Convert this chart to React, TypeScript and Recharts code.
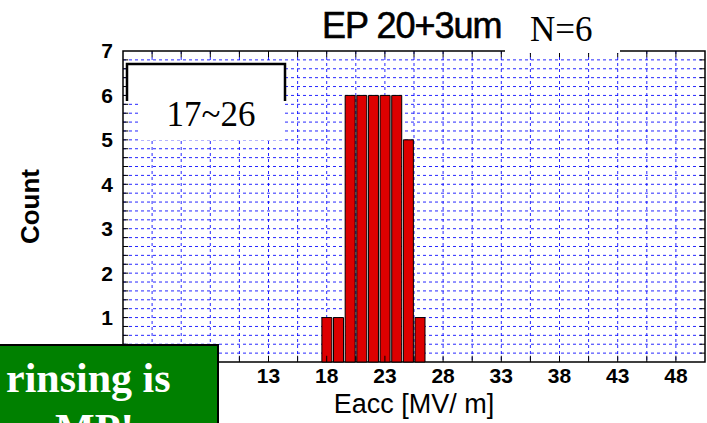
import React from "react";
import { ComposedChart, Bar, XAxis, YAxis, CartesianGrid, ReferenceLine, ReferenceArea } from "recharts";

const bins = [18, 19, 20, 21, 22, 23, 24, 25, 26];
const counts = [1, 1, 6, 6, 6, 6, 6, 5, 1];
// labels under the green box (0, 3, 8) are not visible in the picture
const xTicks = [13, 18, 23, 28, 33, 38, 43, 48];
const yTicks = [1, 2, 3, 4, 5, 6, 7];

const data = bins.map((eacc, i) => ({ eacc, count: counts[i] }));

// grid lines and inner tick marks (every 2.5 on x, every 0.2 on y)
const xMinor = Array.from({ length: 19 }, (_, i) => 3 + i * 2.5);
const yMinor = Array.from({ length: 34 }, (_, i) => Math.round((i + 1) * 2) / 10);

const sans = "Arial, 'Liberation Sans', sans-serif";
const serif = "'Times New Roman', 'Liberation Serif', serif";

const tickStyle = { fontSize: 21, fontWeight: 700, fill: "#000", fontFamily: sans };

export default function App() {
  return (
    <div style={{ position: "fixed", left: 0, top: 0, width: 707, height: 423, background: "#fff", overflow: "hidden" }}>
      <ComposedChart width={707} height={423} data={data} margin={{ top: 51, right: 2, left: 83, bottom: 31 }}>
        <CartesianGrid
          verticalValues={xMinor}
          horizontalValues={yMinor}
          stroke="#0000ff"
          strokeOpacity={0.85}
          strokeDasharray="3 3"
        />
        <XAxis
          dataKey="eacc"
          type="number"
          domain={[0.5, 50.5]}
          ticks={xTicks}
          interval={0}
          allowDataOverflow
          tickLine={false}
          axisLine={false}
          tickSize={0}
          tickMargin={6}
          height={30}
          tick={tickStyle}
          label={{ value: "Eacc [MV/ m]", position: "bottom", offset: 2, fontSize: 27, fill: "#000", fontFamily: sans }}
        />
        <YAxis
          type="number"
          domain={[0, 7]}
          ticks={yTicks}
          interval={0}
          tickLine={false}
          axisLine={false}
          tickSize={0}
          tickMargin={10}
          width={40}
          tick={tickStyle}
          label={{
            content: ({ viewBox }: any) => (
              <text
                x={viewBox.x - 53}
                y={viewBox.y + viewBox.height / 2}
                transform={`rotate(-90 ${viewBox.x - 53} ${viewBox.y + viewBox.height / 2})`}
                textAnchor="middle"
                dominantBaseline="central"
                fontSize={26}
                fontWeight={700}
                fontFamily={sans}
                fill="#000"
              >
                Count
              </text>
            ),
          }}
        />
        <Bar dataKey="count" fill="#dd0000" stroke="#000" strokeWidth={1} barSize={10} isAnimationActive={false} />
        {xMinor.map((x) => (
          <ReferenceLine key={"b" + x} segment={[{ x, y: 0 }, { x, y: 0.14 }]} stroke="#000" strokeWidth={1} />
        ))}
        {xMinor.map((x) => (
          <ReferenceLine key={"t" + x} segment={[{ x, y: 7 }, { x, y: 6.86 }]} stroke="#000" strokeWidth={1} />
        ))}
        {yMinor.map((y) => (
          <ReferenceLine key={"l" + y} segment={[{ x: 0.5, y }, { x: 0.95, y }]} stroke="#000" strokeWidth={1} />
        ))}
        {yMinor.map((y) => (
          <ReferenceLine key={"r" + y} segment={[{ x: 50.5, y }, { x: 50.05, y }]} stroke="#000" strokeWidth={1} />
        ))}
        <ReferenceArea x1={0.5} x2={50.5} y1={0} y2={7} fill="none" stroke="#000" strokeWidth={1.5} />
      </ComposedChart>

      <svg width={707} height={423} style={{ position: "absolute", left: 0, top: 0, pointerEvents: "none" }}>
        <rect x={505} y={0} width={115} height={53} fill="#fff" />
        <text x={322} y={38} fontSize={36} fontFamily={sans} letterSpacing={-1} stroke="#000" strokeWidth={0.6} fill="#000">
          EP 20+3um
        </text>
        <text x={530} y={41} fontSize={35} fontFamily={serif} fill="#000">
          N=6
        </text>

        <rect x={127} y={64} width={158} height={37} fill="#fff" />
        <path d="M127,101 V64 H285 V101" fill="none" stroke="#000" strokeWidth={2.5} />
        <rect x={138} y={101} width={145} height={39} fill="#fff" />
        <text x={211} y={126} textAnchor="middle" fontSize={35} fontFamily={serif} fill="#000">
          17~26
        </text>

        <rect x={-2} y={345} width={220} height={82} fill="#008000" stroke="#000" strokeWidth={2} />
        <text x={6} y={392} fontSize={42} fontWeight={700} fontFamily={serif} fill="#fff">
          rinsing is
        </text>
        <text x={55} y={443} fontSize={42} fontWeight={700} fontFamily={serif} fill="#fff">
          MP!
        </text>
      </svg>
    </div>
  );
}
